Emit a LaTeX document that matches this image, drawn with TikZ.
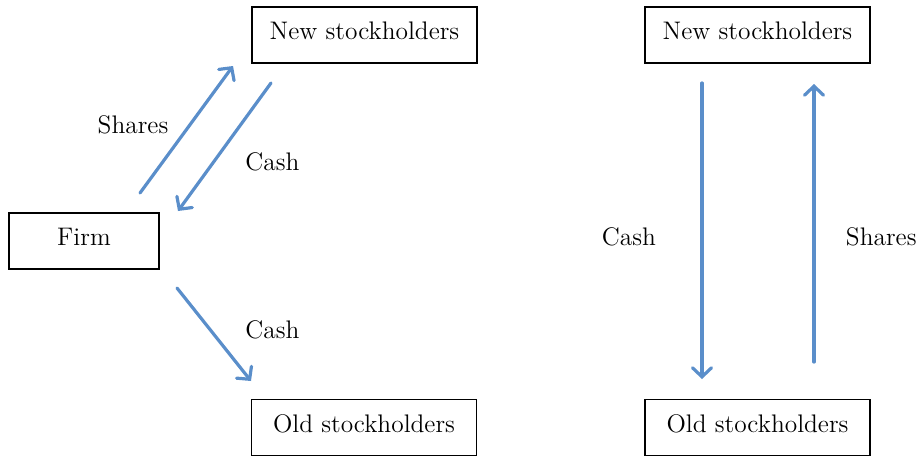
\documentclass[tikz,border=0pt]{standalone}
\usetikzlibrary{arrows.meta}
\definecolor{flowblue}{HTML}{5A8ECA}
\begin{document}
\begin{tikzpicture}[x=0.5pt,y=-0.5pt,
		party/.style={draw,line width=0.7pt,minimum height=28pt,inner sep=0pt,text depth=4pt,font=\fontsize{12.7}{15}\selectfont},
		lbl/.style={inner sep=0pt,font=\fontsize{12.7}{15}\selectfont},
		flow/.style={line width=1.6pt,color=flowblue,-{Straight Barb[length=4.5pt,width=9.5pt,line cap=round]},line cap=round}]
		\useasboundingbox (0,0) rectangle (918,456);
		% left: new issue
		\node[party,minimum width=112.5pt] (newL) at (364.5,35) {New stockholders};
		\node[party,minimum width=75pt] (firm) at (84,241) {Firm};
		\node[party,minimum width=112.5pt] (oldL) at (364,427.5) {Old stockholders};
		\coordinate (shA) at (140,193);
		\coordinate (shB) at (233,66);
		\coordinate (caA) at (271,83);
		\coordinate (caB) at (178,211);
		\coordinate (cbA) at (177,288);
		\coordinate (cbB) at (251,381);
		\draw[flow] (shA) -- (shB);
		\draw[flow] (caA) -- (caB);
		\draw[flow] (cbA) -- (cbB);
		\node[lbl] (shL) at (133,125) {Shares};
		\node[lbl] (caL) at (272.5,162) {Cash};
		\node[lbl] (cbL) at (272.5,330) {Cash};
		% right: secondary sale
		\node[party,minimum width=112.5pt] (newR) at (757.5,35) {New stockholders};
		\node[party,minimum width=112.5pt] (oldR) at (757.5,427.5) {Old stockholders};
		\coordinate (rcA) at (702,83);
		\coordinate (rcB) at (702,379);
		\coordinate (rsA) at (814,362);
		\coordinate (rsB) at (814,84);
		\draw[flow] (rcA) -- (rcB);
		\draw[flow] (rsA) -- (rsB);
		\node[lbl] (rcL) at (629,237) {Cash};
		\node[lbl,anchor=east] (rsL) at (917,237) {Shares};
\end{tikzpicture}
\end{document}
